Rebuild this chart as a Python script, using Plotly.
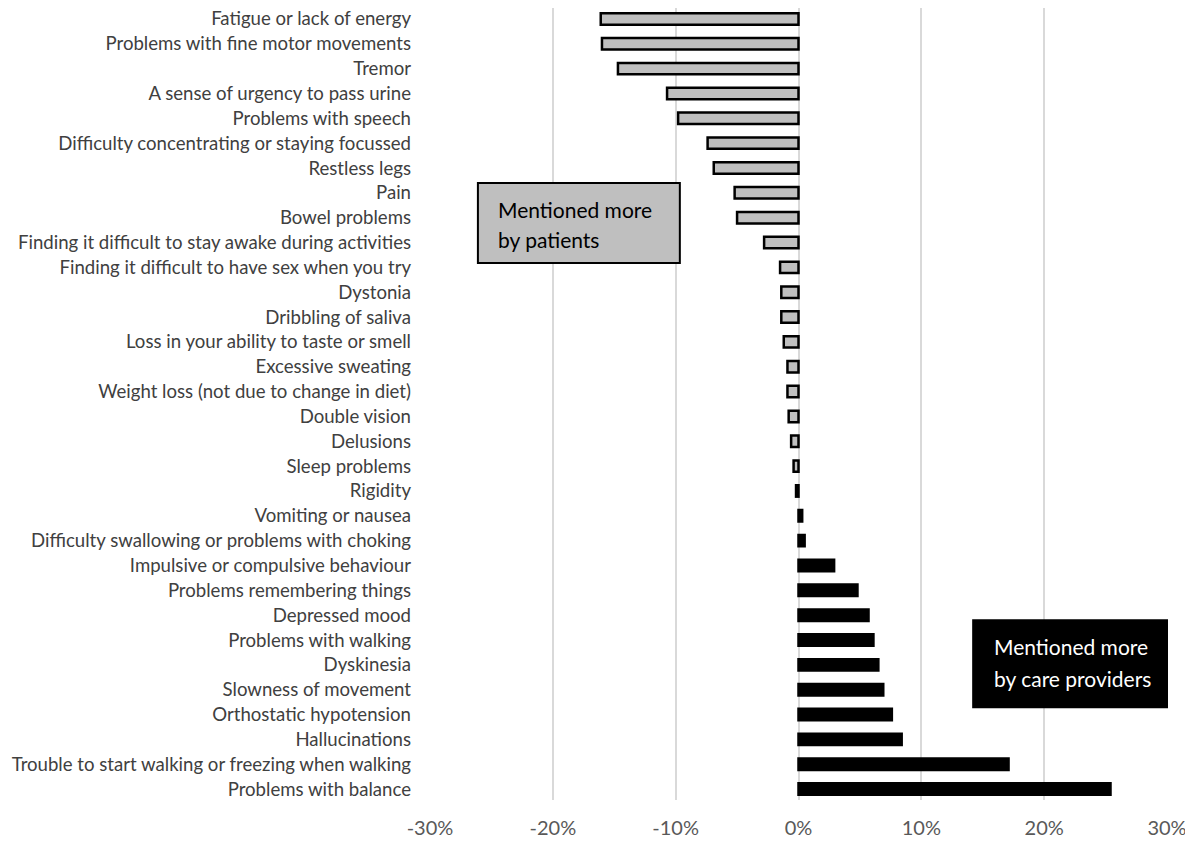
import plotly.graph_objects as go

symptoms = [
    "Fatigue or lack of energy",
    "Problems with fine motor movements",
    "Tremor",
    "A sense of urgency to pass urine",
    "Problems with speech",
    "Difficulty concentrating or staying focussed",
    "Restless legs",
    "Pain",
    "Bowel problems",
    "Finding it difficult to stay awake during activities",
    "Finding it difficult to have sex when you try",
    "Dystonia",
    "Dribbling of saliva",
    "Loss in your ability to taste or smell",
    "Excessive sweating",
    "Weight loss (not due to change in diet)",
    "Double vision",
    "Delusions",
    "Sleep problems",
    "Rigidity",
    "Vomiting or nausea",
    "Difficulty swallowing or problems with choking",
    "Impulsive or compulsive behaviour",
    "Problems remembering things",
    "Depressed mood",
    "Problems with walking",
    "Dyskinesia",
    "Slowness of movement",
    "Orthostatic hypotension",
    "Hallucinations",
    "Trouble to start walking or freezing when walking",
    "Problems with balance",
]
# difference (care providers minus patients), in percent
diff = [
    -16.1, -16.0, -14.7, -10.7, -9.8, -7.4, -6.9, -5.2, -5.0, -2.8,
    -1.5, -1.4, -1.4, -1.2, -0.9, -0.9, -0.8, -0.6, -0.4, -0.2,
    0.3, 0.5, 2.9, 4.8, 5.7, 6.1, 6.5, 6.9, 7.6, 8.4, 17.1, 25.4,
]
tick_vals = [-30, -20, -10, 0, 10, 20, 30]
tick_text = ["-30%", "-20%", "-10%", "0%", "10%", "20%", "30%"]
box_patients = ["Mentioned more", "by patients"]
box_carers = ["Mentioned more", "by care providers"]

FONT = "Lato, Open Sans, sans-serif"
colors = ["#bfbfbf" if v < 0 else "#000000" for v in diff]

fig = go.Figure(go.Bar(
    x=diff, y=symptoms, orientation="h",
    marker=dict(color=colors, line=dict(color="#000000", width=2.5)),
    width=0.46,
))

# gray box: patients / black box: care providers
fig.add_shape(type="rect", xref="paper", yref="paper", x0=0.065, x1=0.339, y0=0.678, y1=0.779,
              fillcolor="#bfbfbf", line=dict(color="#000000", width=2), layer="above")
for txt, yy in zip(box_patients, [0.7462, 0.7071]):
    fig.add_annotation(xref="paper", yref="paper", x=0.089, y=yy, xanchor="left", yanchor="middle",
                       text=txt, showarrow=False, font=dict(family=FONT, size=21, color="#000000"))
fig.add_shape(type="rect", xref="paper", yref="paper", x0=0.737, x1=1.0, y0=0.117, y1=0.227,
              fillcolor="#000000", line=dict(color="#000000", width=2), layer="above")
for txt, yy in zip(box_carers, [0.1932, 0.1540]):
    fig.add_annotation(xref="paper", yref="paper", x=0.762, y=yy, xanchor="left", yanchor="middle",
                       text=txt, showarrow=False, font=dict(family=FONT, size=21, color="#ffffff"))

fig.update_layout(
    width=1193, height=845,
    paper_bgcolor="#ffffff", plot_bgcolor="#ffffff",
    margin=dict(l=422, r=34, t=0, b=53),
    showlegend=False,
    font=dict(family=FONT, size=18.6, color="#404040"),
    xaxis=dict(range=[-30, 30], tickvals=tick_vals, ticktext=tick_text,
               showgrid=True, gridcolor="#d9d9d9", gridwidth=1.5,
               zeroline=True, zerolinecolor="#d9d9d9", zerolinewidth=1.5,
               showline=False, ticks="", ticklabelstandoff=14,
               tickfont=dict(size=20, color="#595959")),
    yaxis=dict(automargin=False, showgrid=False, ticks="",
               ticklabelstandoff=18, tickfont=dict(size=18.6, color="#404040"),
               range=[31.44, -0.44]),
)

fig.write_html("out.html")
